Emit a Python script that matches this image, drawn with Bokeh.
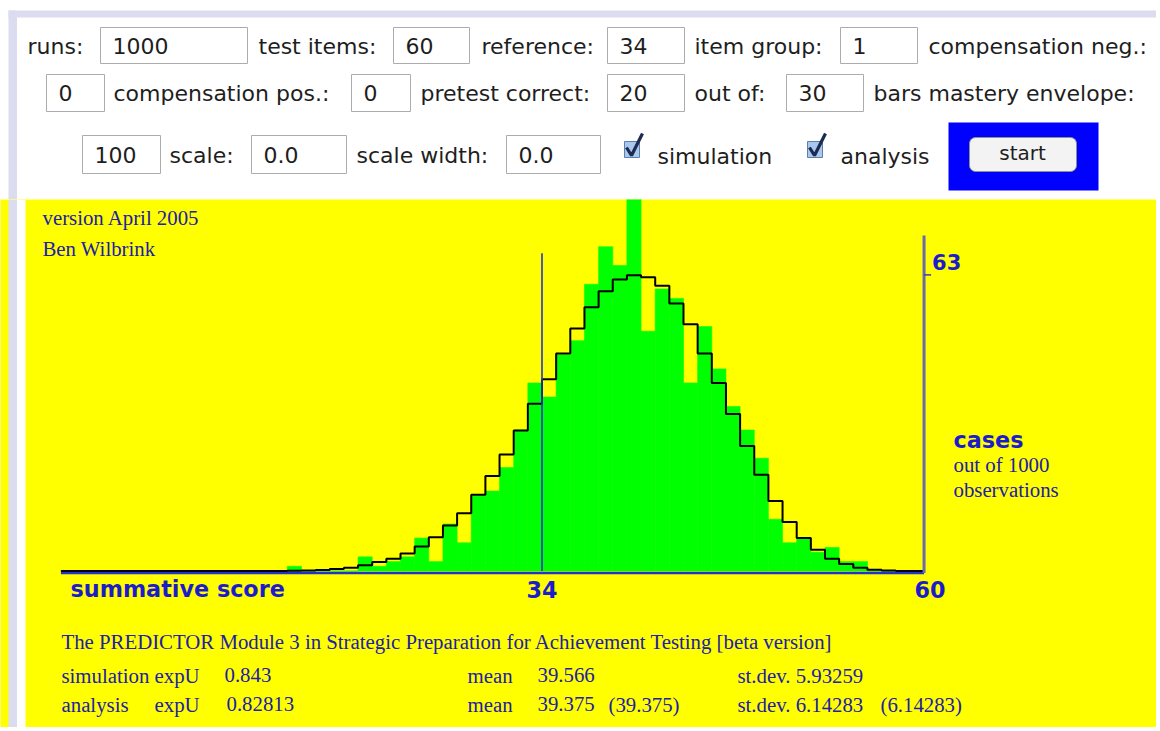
import numpy as np
from bokeh.plotting import figure
from bokeh.models import Range1d
from bokeh.layouts import column
from bokeh.embed import file_html
from bokeh.resources import INLINE
from bokeh.core.properties import value

# ===================== DATA =====================
scores = list(range(0, 61))          # summative score 0..60
simulation_cases = [                 # simulated cases out of 1000 (green bars)
    0, 0, 0, 0, 0, 0, 0, 0, 0, 0,
    0, 0, 0, 0, 0, 0, 1, 0, 0, 0,
    0, 3, 1, 2, 3, 7, 2, 10, 6, 16,
    17, 22, 30, 40, 37, 46, 49, 61, 69, 65,
    83, 51, 60, 58, 40, 52, 43, 35, 30, 24,
    11, 6, 7, 4, 5, 2, 2, 0, 0, 0,
    0,
]
analysis_cases = [                   # expected cases from analysis (black step line)
    0, 0, 0, 0, 0, 0, 0, 0, 0, 0,
    0, 0, 0, 0, 0, 0.02, 0.05, 0.1, 0.2, 0.45,
    0.7, 1.2, 1.9, 2.6, 3.7, 5.2, 7.2, 9.7, 12.3, 16.2,
    20.2, 24.8, 29.9, 35.6, 40.8, 46.3, 51.6, 56.1, 59.5, 62.0,
    62.9, 62.5, 60.7, 56.9, 52.5, 46.3, 40.0, 33.4, 26.6, 20.5,
    14.9, 10.4, 7.0, 4.5, 2.6, 1.5, 0.7, 0.25, 0.08, 0.02,
    0,
]
n_items = 60
reference_score = 34
x_tick_values = [34, 60]
x_tick_labels = ["34", "60"]
y_tick_values = [63]
y_tick_labels = ["63"]
x_axis_title = "summative score"
y_axis_title = "cases"
y_axis_sub = ["out of 1000", "observations"]
credits = ["version April 2005", "Ben Wilbrink"]
footer_title = "The PREDICTOR Module 3 in Strategic Preparation for Achievement Testing [beta version]"
sim_stats = ["simulation expU", "0.843", "mean", "39.566", "st.dev. 5.93259"]
ana_stats = ["analysis", "expU", "0.82813", "mean", "39.375", "(39.375)", "st.dev. 6.14283", "(6.14283)"]

# control panel content
control_labels = ["runs:", "test items:", "reference:", "item group:", "compensation neg.:",
                  "compensation pos.:", "pretest correct:", "out of:", "bars mastery envelope:",
                  "scale:", "scale width:"]
field_values = ["1000", "60", "34", "1", "0", "0", "20", "30", "100", "0.0", "0.0"]
checkbox_labels = ["simulation", "analysis"]
button_label = "start"

# ===================== LAYOUT / STYLE =====================
W = 1156
X_LEFT, X_RIGHT = 0, W
TOP_Y0, SPLIT_Y, BOT_Y1 = 0, 199, 727
SANS = value("DejaVu Sans")
SERIF = value("Liberation Serif")
LAV = "#dcdcf0"
BLUE_TXT = "#1c1ccc"
SERIF_TXT = "#2020a8"
UI_TXT = "#1e1e1e"
UI_SIZE = "22px"
SERIF_SIZE = "20.8px"
BOLD_SIZE = "22.3px"
TEXT_DY = 8.5          # rendered text sits this many px lower than its anchor; compensate

SCORE0_PX, PX_PER_SCORE = 60.4, 14.15
ZERO_PX, PX_PER_CASE = 570.5, 4.70


def base_fig(y0, y1):
    f = figure(width=W, height=y1 - y0, x_range=Range1d(X_LEFT, X_RIGHT), y_range=Range1d(y1, y0),
               output_backend="svg", toolbar_location=None, min_border=0,
               x_axis_type=None, y_axis_type=None)
    f.outline_line_color = None
    f.background_fill_color = "white"
    f.border_fill_color = "white"
    return f


def txt(f, x, y, s, font=SANS, size=UI_SIZE, color=UI_TXT, style="normal", align="left",
        baseline="alphabetic", xr="default", yr="default", x_offset=0):
    y = y - TEXT_DY if yr == "default" else y + TEXT_DY / PX_PER_CASE
    f.text(x=[x], y=[y], text=[s], text_font=font, text_font_size=size, text_color=color,
           text_font_style=style, text_align=align, text_baseline=baseline,
           x_range_name=xr, y_range_name=yr, x_offset=x_offset)


# ---------------- control panel ----------------
top = base_fig(TOP_Y0, SPLIT_Y)
top.quad(left=[8], right=[W], top=[10], bottom=[17], fill_color=LAV, line_color=None)
top.quad(left=[8], right=[16.5], top=[10], bottom=[SPLIT_Y], fill_color=LAV, line_color=None)

rows = [(27, 63, 54), (74, 111, 101), (135, 173, 163)]
label_pos = [(27, 0), (258, 0), (481, 0), (694, 0), (928, 0),
             (113, 1), (420, 1), (694, 1), (873, 1),
             (169, 2), (356, 2)]
field_pos = [(100, 247, 0), (393, 469, 0), (607, 684, 0), (840, 917, 0), (46, 104, 1),
             (351, 410, 1), (607, 684, 1), (786, 863, 1), (82, 160, 2), (251, 346, 2), (506, 600, 2)]

for lab, (x, r) in zip(control_labels, label_pos):
    txt(top, x, rows[r][2], lab)
for val, (l, rr, r) in zip(field_values, field_pos):
    top.quad(left=[l], right=[rr], top=[rows[r][0]], bottom=[rows[r][1]],
             fill_color="white", line_color="#acacac", line_width=1)
    txt(top, l + 12, rows[r][2], val)

for lab, bx in zip(checkbox_labels, [624, 807]):
    top.quad(left=[bx], right=[bx + 15], top=[141], bottom=[157],
             fill_color="#a9c8ee", line_color="#5d7fb0", line_width=1)
    top.line(x=[bx + 2, bx + 7, bx + 18], y=[147, 155, 133], line_color="#1d2b50", line_width=3.2)
    txt(top, bx + 33, 164, lab)

top.quad(left=[948], right=[1098], top=[122], bottom=[190], fill_color="#0000ff", line_color=None)
top.quad(left=[969], right=[1076], top=[137], bottom=[171], fill_color="#f3f3f3",
         line_color="#8e8e8e", line_width=1, border_radius=6)
txt(top, 1022, 161, button_label, size="20px", align="center")

# ---------------- chart panel ----------------
bot = base_fig(SPLIT_Y, BOT_Y1)
bot.background_fill_color = "#ffff00"
bot.quad(left=[8], right=[16.5], top=[SPLIT_Y], bottom=[BOT_Y1], fill_color=LAV, line_color=None)
bot.quad(left=[16.5], right=[25], top=[SPLIT_Y], bottom=[BOT_Y1], fill_color="white", line_color=None)

bot.extra_x_ranges = {"score": Range1d((X_LEFT - SCORE0_PX) / PX_PER_SCORE,
                                       (X_RIGHT - SCORE0_PX) / PX_PER_SCORE)}
bot.extra_y_ranges = {"cases": Range1d((ZERO_PX - BOT_Y1) / PX_PER_CASE,
                                       (ZERO_PX - SPLIT_Y) / PX_PER_CASE)}
D = dict(x_range_name="score", y_range_name="cases")

s = np.array(scores, dtype=float)
bot.quad(left=s, right=s + 1, bottom=0, top=np.array(simulation_cases, dtype=float),
         fill_color="#00ff00", line_color="#00ff00", line_width=0.6, **D)

axis_end = n_items + 1  # axis ends at the right edge of the last score bin
bot.segment(x0=[0], y0=[-0.4], x1=[axis_end], y1=[-0.4], line_color="#2233cc", line_width=2.5, **D)

edges = np.append(s, axis_end)
bot.step(x=edges, y=np.append(analysis_cases, 0), mode="after", line_color="black", line_width=2, **D)

bot.segment(x0=[reference_score], y0=[0], x1=[reference_score], y1=[67.6],
            line_color="#2233dd", line_width=1.6, **D)
bot.segment(x0=[axis_end], y0=[-0.4], x1=[axis_end], y1=[71.4], line_color="#6a6aae", line_width=3, **D)
for v in y_tick_values:
    bot.segment(x0=[axis_end], y0=[v], x1=[axis_end + 0.5], y1=[v], line_color="#3a3ac0", line_width=1.5, **D)

for v, lab in zip(x_tick_values, x_tick_labels):
    lx = v if v < n_items else v + 1
    off = 0 if v < n_items else 6
    txt(bot, lx, 597, lab, size=BOLD_SIZE, color=BLUE_TXT, style="bold", align="center",
        xr="score", x_offset=off)
for v, lab in zip(y_tick_values, y_tick_labels):
    # label baseline sits about 4 px above its tick
    txt(bot, axis_end, v + 4.0 / PX_PER_CASE, lab, size="21px", color=BLUE_TXT, style="bold",
        xr="score", yr="cases", x_offset=8)

txt(bot, 70, 597, x_axis_title, size=BOLD_SIZE, color=BLUE_TXT, style="bold")
txt(bot, 953, 448, y_axis_title, size=BOLD_SIZE, color=BLUE_TXT, style="bold")
txt(bot, 953, 472, y_axis_sub[0], font=SERIF, size=SERIF_SIZE, color=SERIF_TXT)
txt(bot, 953, 497, y_axis_sub[1], font=SERIF, size=SERIF_SIZE, color=SERIF_TXT)

txt(bot, 42, 225, credits[0], font=SERIF, size=SERIF_SIZE, color=SERIF_TXT)
txt(bot, 42, 256, credits[1], font=SERIF, size=SERIF_SIZE, color=SERIF_TXT)

txt(bot, 61, 649, footer_title, font=SERIF, size=SERIF_SIZE, color=SERIF_TXT)
for lab, x in zip(sim_stats, [61, 224, 467, 537, 737]):
    txt(bot, x, 683, lab, font=SERIF, size=SERIF_SIZE, color=SERIF_TXT)
for lab, x in zip(ana_stats, [61, 154, 226, 467, 537, 608, 737, 880]):
    txt(bot, x, 712, lab, font=SERIF, size=SERIF_SIZE, color=SERIF_TXT)

layout = column(top, bot, spacing=0)
open("out.html", "w").write(file_html(layout, INLINE, title="PREDICTOR"))
